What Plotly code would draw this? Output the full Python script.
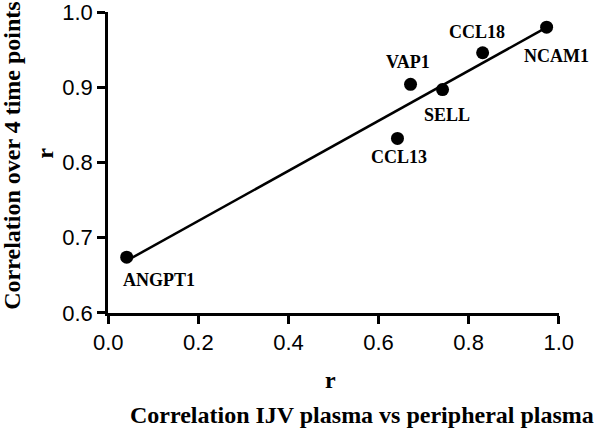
import numpy as np
import plotly.graph_objects as go

genes = ["ANGPT1", "CCL13", "VAP1", "SELL", "CCL18", "NCAM1"]
r_ijv_vs_peripheral = [0.041, 0.642, 0.671, 0.742, 0.831, 0.973]
r_over_time = [0.674, 0.832, 0.904, 0.897, 0.946, 0.980]

x_ticks = [0.0, 0.2, 0.4, 0.6, 0.8, 1.0]
y_ticks = [0.6, 0.7, 0.8, 0.9, 1.0]

# label offsets in pixels (style only)
label_shift = {
    "ANGPT1": (32, -23),
    "CCL13": (2, -19),
    "VAP1": (-3, 22),
    "SELL": (4, -25),
    "CCL18": (-6, 21),
    "NCAM1": (10, -29),
}

xs = np.array(r_ijv_vs_peripheral)
ys = np.array(r_over_time)
slope, intercept = np.polyfit(xs, ys, 1)
line_x = [xs.min(), xs.max()]
line_y = [slope * v + intercept for v in line_x]

serif = "Liberation Serif, Times New Roman, serif"
sans = "Liberation Sans, Arial, sans-serif"

W, H = 596, 428
# plot area in window pixels
px0, px1, py0, py1 = 107.5, 559.5, 12, 313
L, R, T, B = px0, W - px1, py0, H - py1
pw, ph = W - L - R, H - T - B


def paper(xw, yw):
    return (xw - L) / pw, (H - yw - B) / ph


fig = go.Figure()
fig.add_trace(go.Scatter(x=line_x, y=line_y, mode="lines",
                         line=dict(color="black", width=2.5), hoverinfo="skip"))
fig.add_trace(go.Scatter(x=xs, y=ys, mode="markers",
                         marker=dict(color="black", size=13), text=genes))

for g, xv, yv in zip(genes, r_ijv_vs_peripheral, r_over_time):
    dx, dy = label_shift[g]
    fig.add_annotation(x=xv, y=yv, xref="x", yref="y", text=f"<b>{g}</b>",
                       showarrow=False, xshift=dx, yshift=dy,
                       xanchor="center", yanchor="middle",
                       font=dict(family=serif, size=18, color="black"))

titles = [
    ("<b>r</b>", 330, 380, 0),
    ("<b>Correlation IJV plasma vs peripheral plasma</b>", 362, 415, 0),
    ("<b>Correlation over 4 time points</b>", 11, 156, -90),
    ("<b>r</b>", 44, 153, -90),
]
for txt, xw, yw, ang in titles:
    xp, yp = paper(xw, yw)
    fig.add_annotation(text=txt, x=xp, y=yp, xref="paper", yref="paper",
                       showarrow=False, textangle=ang,
                       xanchor="center", yanchor="middle",
                       font=dict(family=serif, size=24, color="black"))

axis_style = dict(showgrid=False, zeroline=False, showline=True, linecolor="black",
                  linewidth=2.5, ticks="outside", ticklen=8, tickwidth=2.5,
                  tickcolor="black", tickfont=dict(family=sans, size=22, color="black"),
                  automargin=False, ticklabeloverflow="allow")

fig.update_layout(
    width=W, height=H,
    margin=dict(l=L, r=R, t=T, b=B, autoexpand=False),
    plot_bgcolor="white", paper_bgcolor="white",
    showlegend=False,
    xaxis=dict(range=[-0.0005, 1.0005], tickvals=x_ticks,
               ticktext=[f"{v:.1f}" for v in x_ticks], **axis_style),
    yaxis=dict(range=[0.5998, 1.0002], tickvals=y_ticks,
               ticktext=[f"{v:.1f}" for v in y_ticks], **axis_style),
)

fig.write_html("out.html", config={"displayModeBar": False},
               post_script="document.body.style.margin='0';")
